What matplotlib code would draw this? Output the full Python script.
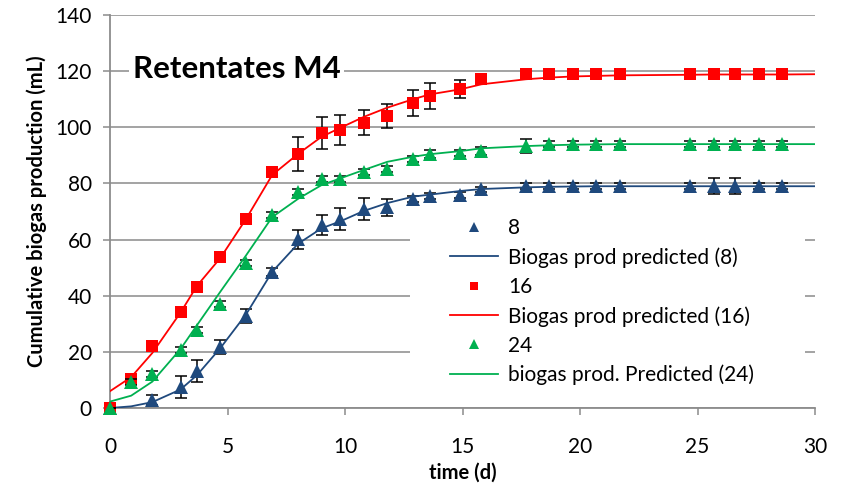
import numpy as np
import matplotlib
matplotlib.use("Agg")
import matplotlib.pyplot as plt
from matplotlib.patches import Rectangle

plt.rcParams["font.family"] = ["Lato", "DejaVu Sans"]

# sampling days (measured)
days = [0, 0.9, 1.8, 3.0, 3.7, 4.7, 5.8, 6.9, 8.0, 9.0, 9.8, 10.8, 11.8, 12.9, 13.6,
        14.9, 15.8, 17.7, 18.7, 19.7, 20.7, 21.7, 24.7, 25.7, 26.6, 27.6, 28.6]
# days for the model curves
pred_days = days + [30]

# measured cumulative biogas (mL) and standard deviations
biogas_8 = [0, np.nan, 2.8, 7.4, 13.2, 21.7, 32.8, 48.4, 60.1, 65.2, 67.3, 70.8, 71.5, 74.4, 75.5,
            75.9, 77.9, 79, 79, 79, 79, 79, 79, 79.2, 79.2, 79, 79]
err_8 = [0, 0, 1.8, 4, 4, 2.4, 2.6, 1.3, 3.3, 3.4, 3.9, 4, 3, 1, 1,
         1, 1, 1, 1, 1, 1, 1, 1, 2.8, 2.8, 1, 1]

biogas_16 = [0, 10.5, 22, 34.2, 43.2, 53.9, 67.5, 84.2, 90.5, 98, 99, 101.7, 104, 108.6, 111,
             113.6, 117.2, 118.8, 118.8, 118.8, 118.8, 118.8, 118.8, 118.8, 118.8, 118.8, 118.8]
err_16 = [0.5, 1, 1, 1, 1, 1, 1.2, 1, 5.9, 5.7, 5.2, 4.3, 4.4, 4.7, 4.6,
          3.1, 1, 1, 1, 1, 1, 1, 1, 1, 1, 1, 1]

biogas_24 = [0, 9.3, 12.1, 20.7, 27.8, 37, 51.6, 68.8, 76.9, 81.5, 81.5, 84, 85.1, 88.6, 90.4,
             90.8, 91.5, 93.3, 94, 94, 94, 94, 94, 94, 94, 94, 94]
err_24 = [0, 1, 1, 1.2, 1, 1, 1, 1, 1, 1, 1, 1, 1, 1, 1.5,
          1, 1.5, 2.4, 1, 1, 1, 1, 1, 1, 1, 1, 1]

# model predictions
pred_8 = [0, 0.6, 2.1, 6.6, 11.7, 21.4, 33.5, 48.5, 58.5, 64, 66.5, 70.2, 73, 75.3, 76,
          77.3, 78, 78.6, 78.8, 78.9, 79, 79, 79, 79, 79, 79, 79, 79]
pred_16 = [6, 11, 19.6, 34, 43.5, 53.5, 67.5, 83, 90.5, 96.6, 99.8, 103.7, 107, 110, 111.7,
           113.5, 115.3, 117.1, 117.7, 118.1, 118.3, 118.5, 118.7, 118.8, 118.8, 118.8, 118.8, 118.9]
pred_24 = [2.3, 4.4, 9.4, 21, 29.5, 41.5, 54.5, 68, 74.5, 79.4, 81.8, 84.8, 87.7, 89.5, 90.4,
           91.5, 92.5, 93.3, 93.6, 93.8, 93.9, 94, 94, 94, 94, 94, 94, 94]

BLUE = "#1F497D"
RED = "#FF0000"
GREEN = "#00B050"
GRID = "#9C9C9C"

fig = plt.figure(figsize=(8.43, 4.91), dpi=100)
ax = fig.add_axes([0.1305, 0.169, 0.8363, 0.8005])

series = [
    (biogas_8, err_8, pred_8, BLUE, "^", 10, "8", "Biogas prod predicted (8)"),
    (biogas_16, err_16, pred_16, RED, "s", 9, "16", "Biogas prod predicted (16)"),
    (biogas_24, err_24, pred_24, GREEN, "^", 10, "24", "biogas prod. Predicted (24)"),
]

handles = []
z = 3
for vals, errs, pred, col, mk, ms, lab, plab in series:
    ax.errorbar(days, vals, yerr=errs, fmt="none", ecolor="black",
                elinewidth=1.1, capsize=4, capthick=1.1, zorder=z)
    pts, = ax.plot(days, vals, linestyle="none", marker=mk, markersize=ms,
                   color=col, markeredgewidth=0, label=lab, zorder=z + 0.5,
                   clip_on=False)
    ln, = ax.plot(pred_days, pred, color=col, linewidth=1.3, label=plab, zorder=z + 1)
    handles += [pts, ln]
    z += 2

ax.set_xlim(0, 30)
ax.set_ylim(0, 140)
ax.set_xticks(range(0, 31, 5))
ax.set_yticks(range(0, 141, 20))
ax.yaxis.grid(True, color=GRID, linewidth=1.3)
ax.set_axisbelow(True)

for s in ["top", "right"]:
    ax.spines[s].set_visible(False)
for s in ["left", "bottom"]:
    ax.spines[s].set_color("#8C8C8C")
    ax.spines[s].set_linewidth(1.3)

ax.tick_params(axis="both", direction="out", length=5, width=1.1, color="#8C8C8C",
               labelsize=15)
ax.tick_params(axis="x", pad=16)
ax.tick_params(axis="y", pad=8)

ax.set_xlabel("time (d)", fontsize=14.5, fontweight="bold", labelpad=4)
ax.set_ylabel("Cumulative biogas production (mL)", fontsize=14.5, fontweight="bold", labelpad=6)

# white panel behind the legend hides the gridlines there
ax.add_patch(Rectangle((0.4255, 0.033), 0.56, 0.466, transform=ax.transAxes,
                       facecolor="white", edgecolor="none", zorder=1.5))

ax.legend(handles=handles, loc="upper left", bbox_to_anchor=(0.47, 0.505),
          frameon=False, fontsize=15, handlelength=2.3, handletextpad=0.5,
          labelspacing=0.44, borderaxespad=0, markerscale=0.7)

ax.text(0.032, 0.862, "Retentates M4", transform=ax.transAxes, fontsize=22.5,
        fontweight="bold", va="center", ha="left",
        bbox=dict(facecolor="white", edgecolor="none", pad=3), zorder=2)

fig.savefig("out.png", dpi=100)
